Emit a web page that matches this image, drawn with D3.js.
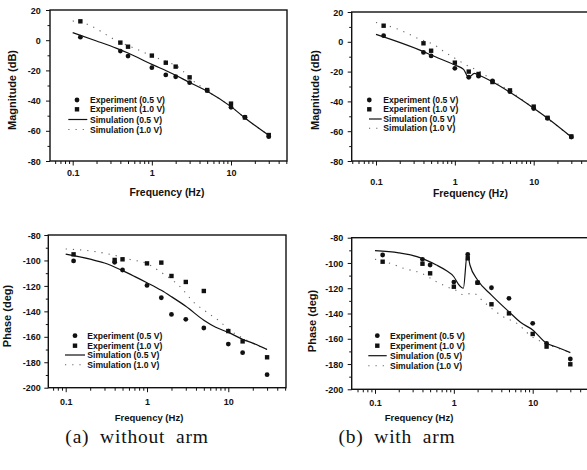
<!DOCTYPE html>
<html><head><meta charset="utf-8">
<script src="https://cdn.jsdelivr.net/npm/d3@7"></script>
<style>
body{margin:0;background:#fff}
svg{display:block}
text{font-family:"Liberation Sans",Arial,sans-serif;fill:#111}
</style></head><body>
<svg id="fig" width="587" height="470"></svg>
<script>
// Measurement frequencies (Hz)
const expFreq = [0.125, 0.4, 0.5, 1, 1.5, 2, 3, 5, 10, 15, 30];

// (a) without arm — magnitude (dB)
const magA_exp05 = [2, -7.2, -10.5, -18.2, -23, -24.2, -28.1, -33.4, -44.4, -51, -63.9];
const magA_exp10 = [12.5, -1.6, -4.3, -10.2, -14.9, -17.5, -24.6, -33, -42, -51.2, -62.8];
const magA_simF05 = [0.1, 0.2, 0.36, 0.5, 1, 1.77, 3, 5, 10, 15, 30];
const magA_sim05  = [5, -0.5, -5.4, -8.5, -16, -21.9, -28, -33.8, -44, -51.5, -63];
const magA_simF10 = [0.1, 0.125, 0.4, 0.65, 1, 1.5, 2.27, 3, 4, 5, 10, 15, 30];
const magA_sim10  = [12.7, 12, -1.5, -6, -10.5, -14, -18.6, -25, -30, -33.6, -44, -51.5, -63];

// (b) with arm — magnitude (dB)
const magB_exp05 = [4.1, -7.1, -9.5, -17.8, -23.8, -23.1, -26.3, -33.5, -44.8, -51.4, -63.9];
const magB_exp10 = [10.8, -1, -6, -14, -20, -21.6, -27, -32.6, -43.5, -51, -63.5];
const magB_simF05 = [0.1, 0.4, 0.5, 1, 1.29, 1.5, 1.77, 2, 3, 5, 10, 15, 30];
const magB_sim05  = [5, -6.6, -8.9, -15.6, -18.5, -23.9, -21.2, -22.3, -26.8, -33.9, -44.6, -51.3, -63.9];
const magB_simF10 = [0.1, 0.2, 0.34, 0.55, 0.73, 1, 1.53, 2.1, 3, 5, 10, 30];
const magB_sim10  = [13, 8, 2.3, -2.1, -6.6, -11, -16.7, -20, -26, -33, -44.6, -63.9];

// (a) without arm — phase (deg)
const phA_exp05 = [-100.4, -101.5, -107.5, -119.6, -129.3, -142.4, -146.3, -153.1, -165.7, -172.5, -189.8];
const phA_exp10 = [-95.2, -99.6, -99.1, -102.3, -101.7, -112.2, -116.9, -124, -155.5, -163.6, -176.1];
const phA_simF05 = [0.1, 0.2, 0.3, 0.5, 0.7, 1, 1.5, 2, 3, 5, 7, 10, 15, 20, 30];
const phA_sim05  = [-95, -99, -102, -108, -112.5, -117.5, -123.5, -128.5, -136, -147, -152.5, -156.5, -162, -165, -170];
const phA_simF10 = [0.1, 0.2, 0.4, 0.6, 1, 1.45, 2.55, 3.7, 5.7, 7.9, 10, 15, 20, 30];
const phA_sim10  = [-91, -92.5, -96, -99, -102.5, -108.8, -120.6, -132.4, -141.6, -148, -154, -161, -165, -170];

// (b) with arm — phase (deg)
const phB_exp05 = [-93.7, -97.1, -101.6, -115.1, -93.2, -115.6, -119.6, -128, -147.8, -163.6, -176];
const phB_exp10 = [-99, -100.6, -108.2, -118.8, -96.3, -115.6, -132.7, -139.9, -156.2, -166.2, -180.2];
const phB_simF05 = [0.1, 0.2, 0.34, 0.6, 0.8, 1.0, 1.14, 1.32, 1.48, 1.6, 2.0, 3, 5, 7, 10, 15, 20, 30];
const phB_sim05  = [-90.3, -92, -95, -101.6, -106, -110.9, -116.7, -120, -92.4, -101.6, -113.5, -125.4, -138.6, -147, -153, -163.6, -166.5, -171];
const phB_simF10 = [0.1, 0.155, 0.23, 0.39, 0.6, 0.85, 1.09, 1.3, 1.77, 2.37, 3.2, 4.2, 6.3, 9.8, 15, 20, 30];
const phB_sim10  = [-97.1, -100.3, -104.2, -108.2, -114.8, -119.3, -122, -125, -124, -130.6, -137.2, -142.5, -147.8, -158.4, -164, -167, -171];

// Axis labels and legend entries
const freqTicks = [0.1, 1, 10];
const freqTickLabels = ["0.1", "1", "10"];
const legendLabels = ["Experiment (0.5 V)", "Experiment (1.0 V)", "Simulation (0.5 V)", "Simulation (1.0 V)"];
const captions = ["(a) without arm", "(b) with arm"];

const svg = d3.select("#fig");

const panels = [
  { left: 50, right: 287, top: 10, bottom: 161, x01: 72.7, x10: 231, yDomain: [-80, 20], yMajor: 20,
    title: "Magnitude (dB)", titleX: 12, titleY: 90, xTitleX: 167, xTitleY: 195.5, xTitleSize: 10.4,
    xLabY: 173.3, yLabGap: 9.3,
    exp05: magA_exp05, exp10: magA_exp10, simF05: magA_simF05, sim05: magA_sim05, simF10: magA_simF10, sim10: magA_sim10,
    leg: { mx: 77, tx: 90, rows: [100, 109.3, 119.5, 129.5], l1: 68.3, l2: 87.3 } },
  { left: 351.7, right: 591, top: 12, bottom: 161, x01: 376, x10: 533.7, yDomain: [-80, 20], yMajor: 20,
    title: "Magnitude (dB)", titleX: 315, titleY: 90, xTitleX: 470.5, xTitleY: 196.5, xTitleSize: 10.4,
    xLabY: 181.5, yLabGap: 8.4,
    exp05: magB_exp05, exp10: magB_exp10, simF05: magB_simF05, sim05: magB_sim05, simF10: magB_simF10, sim10: magB_sim10,
    leg: { mx: 369.3, tx: 383.3, rows: [100, 109.3, 119, 128.3], l1: 369, l2: 381.7 } },
  { left: 48.3, right: 286, top: 235, bottom: 387.7, x01: 65.7, x10: 228.3, yDomain: [-200, -80], yMajor: 20,
    title: "Phase (deg)", titleX: 7.5, titleY: 316, xTitleX: 149, xTitleY: 420.5, xTitleSize: 9.5,
    xLabY: 401.7, yLabGap: 7.6,
    exp05: phA_exp05, exp10: phA_exp10, simF05: phA_simF05, sim05: phA_sim05, simF10: phA_simF10, sim10: phA_sim10,
    leg: { mx: 75, tx: 87.3, rows: [335.7, 345.7, 355, 364.7], l1: 65, l2: 85 } },
  { left: 351.7, right: 591, top: 237.7, bottom: 389.3, x01: 375, x10: 532.7, yDomain: [-200, -80], yMajor: 20,
    title: "Phase (deg)", titleX: 311.7, titleY: 321, xTitleX: 419, xTitleY: 420.5, xTitleSize: 9.5,
    xLabY: 403, yLabGap: 8.4,
    exp05: phB_exp05, exp10: phB_exp10, simF05: phB_simF05, sim05: phB_sim05, simF10: phB_simF10, sim10: phB_sim10,
    leg: { mx: 377.3, tx: 390, rows: [335.7, 345.7, 355.7, 365.7], l1: 368.3, l2: 386.7 } }
];

// sparse dotted stroke used for the 1.0 V simulation
const dotStyle = { stroke: "#666", width: 1.1, dash: "1.2,6" };

function drawCircle(g, cx, cy) {
  g.append("circle").attr("cx", cx).attr("cy", cy).attr("r", 2.4).attr("fill", "#111");
}
function drawSquare(g, cx, cy) {
  g.append("rect").attr("x", cx - 2.2).attr("y", cy - 2.2).attr("width", 4.4).attr("height", 4.4).attr("fill", "#111");
}

function drawPanel(p) {
  const g = svg.append("g");
  const base = d3.scaleLog().domain([0.1, 10]).range([p.x01, p.x10]);
  const x = d3.scaleLog().domain([base.invert(p.left), base.invert(p.right)]).range([p.left, p.right]);
  const y = d3.scaleLinear().domain(p.yDomain).range([p.bottom, p.top]);

  // log-axis tick positions: every integer multiple of each decade
  const [lo, hi] = x.domain();
  const xt = [];
  for (let e = -2; e <= 2; e++) for (let m = 1; m < 10; m++) {
    const v = +(m * Math.pow(10, e)).toPrecision(6);
    if (v >= lo && v <= hi) xt.push(v);
  }
  const isMajorX = v => freqTicks.some(t => Math.abs(t - v) < 1e-9);
  const xAxis = d3.axisBottom(x).tickValues(xt).tickSizeOuter(0)
    .tickFormat(v => { const i = freqTicks.findIndex(t => Math.abs(t - v) < 1e-9); return i >= 0 ? freqTickLabels[i] : ""; });
  const gx = g.append("g").attr("transform", `translate(0,${p.bottom})`).call(xAxis);
  gx.select(".domain").remove();
  gx.selectAll(".tick line").attr("stroke", "#111").attr("stroke-width", 1)
    .attr("y2", d => isMajorX(d) ? 4.5 : 3);
  gx.selectAll(".tick text").attr("y", p.xLabY - p.bottom).attr("dy", "0.35em")
    .attr("font-size", 9).attr("font-weight", "bold").attr("fill", "#111")
    .style("font-family", '"Liberation Sans", Arial, sans-serif');

  const yt = d3.range(p.yDomain[0], p.yDomain[1] + 1, p.yMajor / 2);
  const yAxis = d3.axisLeft(y).tickValues(yt).tickSizeOuter(0)
    .tickFormat(v => (v % p.yMajor === 0) ? String(v) : "");
  const gy = g.append("g").attr("transform", `translate(${p.left},0)`).call(yAxis);
  gy.select(".domain").remove();
  gy.selectAll(".tick line").attr("stroke", "#111").attr("stroke-width", 1)
    .attr("x2", d => (d % p.yMajor === 0) ? -4 : -2.5);
  gy.selectAll(".tick text").attr("x", -p.yLabGap).attr("dy", "0.35em")
    .attr("font-size", 9).attr("font-weight", "bold").attr("fill", "#111")
    .style("font-family", '"Liberation Sans", Arial, sans-serif');

  // plot frame
  g.append("rect").attr("x", p.left).attr("y", p.top)
    .attr("width", p.right - p.left).attr("height", p.bottom - p.top)
    .attr("fill", "none").attr("stroke", "#111").attr("stroke-width", 1.4);

  // simulation curves
  const line = d3.line().x(d => x(d[0])).y(d => y(d[1])).curve(d3.curveMonotoneX);
  g.append("path").attr("d", line(d3.zip(p.simF10, p.sim10)))
    .attr("fill", "none").attr("stroke", dotStyle.stroke).attr("stroke-width", dotStyle.width)
    .attr("stroke-dasharray", dotStyle.dash);
  g.append("path").attr("d", line(d3.zip(p.simF05, p.sim05)))
    .attr("fill", "none").attr("stroke", "#111").attr("stroke-width", 1.2);

  // measured points
  expFreq.forEach((f, i) => {
    drawSquare(g, x(f), y(p.exp10[i]));
    drawCircle(g, x(f), y(p.exp05[i]));
  });

  // legend
  const L = p.leg;
  drawCircle(g, L.mx, L.rows[0]);
  drawSquare(g, L.mx, L.rows[1]);
  g.append("line").attr("x1", L.l1).attr("x2", L.l2).attr("y1", L.rows[2]).attr("y2", L.rows[2])
    .attr("stroke", "#111").attr("stroke-width", 1.2);
  g.append("line").attr("x1", L.l1).attr("x2", L.l2).attr("y1", L.rows[3]).attr("y2", L.rows[3])
    .attr("stroke", dotStyle.stroke).attr("stroke-width", dotStyle.width).attr("stroke-dasharray", dotStyle.dash);
  legendLabels.forEach((t, i) => {
    g.append("text").attr("x", L.tx).attr("y", L.rows[i]).attr("dy", "0.35em")
      .attr("font-size", 8.6).attr("font-weight", "bold").text(t);
  });

  // axis titles
  g.append("text").attr("x", p.xTitleX).attr("y", p.xTitleY).attr("text-anchor", "middle")
    .attr("font-size", p.xTitleSize).attr("font-weight", "bold").text("Frequency (Hz)");
  g.append("text").attr("transform", `translate(${p.titleX},${p.titleY}) rotate(-90)`)
    .attr("text-anchor", "middle").attr("dy", "0.35em")
    .attr("font-size", 11).attr("font-weight", "bold").text(p.title);
}

panels.forEach(drawPanel);

// sub-figure captions
const capX = [137, 397];
captions.forEach((c, i) => {
  svg.append("text").attr("x", capX[i]).attr("y", 443).attr("text-anchor", "middle")
    .style("font-family", '"Liberation Serif","DejaVu Serif",serif')
    .attr("font-size", 19.5).attr("letter-spacing", 0.8).attr("word-spacing", 5).text(c);
});
</script>
</body></html>
